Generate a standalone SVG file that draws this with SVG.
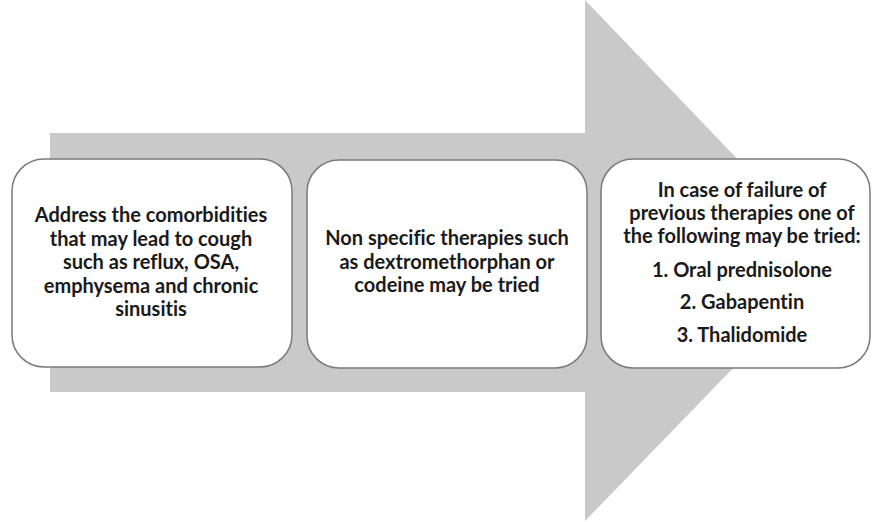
<svg xmlns="http://www.w3.org/2000/svg" width="872" height="522" viewBox="0 0 872 522">
<style>
.box{fill:#fff;stroke:#7a7a7a;stroke-width:1.5}
.t{font-family:Lato,"Open Sans","Liberation Sans",sans-serif;font-weight:bold;font-size:20px;fill:#1a1a1a;text-anchor:middle;font-variant-ligatures:none}
</style>
<rect width="872" height="522" fill="#fff"/>
<g id="connectors">
<path id="arrow" d="M50,133 H585 V0 L836,262 L585,521 V392 H50 Z" fill="#c9c9c9"/>
</g>
<g id="node1">
<rect class="box" x="12" y="159" width="280" height="208" rx="32"/>
<text class="t" x="151" y="222">Address the comorbidities</text>
<text class="t" x="151" y="245.5">that may lead to cough</text>
<text class="t" x="151" y="269">such as reflux, OSA,</text>
<text class="t" x="151" y="292.5">emphysema and chronic</text>
<text class="t" x="151" y="316">sinusitis</text>
</g>
<g id="node2">
<rect class="box" x="307" y="160" width="280" height="208" rx="32"/>
<text class="t" x="447" y="245">Non specific therapies such</text>
<text class="t" x="447" y="268.5">as dextromethorphan or</text>
<text class="t" x="447" y="292">codeine may be tried</text>
</g>
<g id="node3">
<rect class="box" x="601" y="159" width="269" height="209" rx="32"/>
<text class="t" x="742" y="197">In case of failure of</text>
<text class="t" x="742" y="220">previous therapies one of</text>
<text class="t" x="742" y="243">the following may be tried:</text>
<text class="t" x="742" y="277">1. Oral prednisolone</text>
<text class="t" x="742" y="309">2. Gabapentin</text>
<text class="t" x="742" y="342">3. Thalidomide</text>
</g>
</svg>
